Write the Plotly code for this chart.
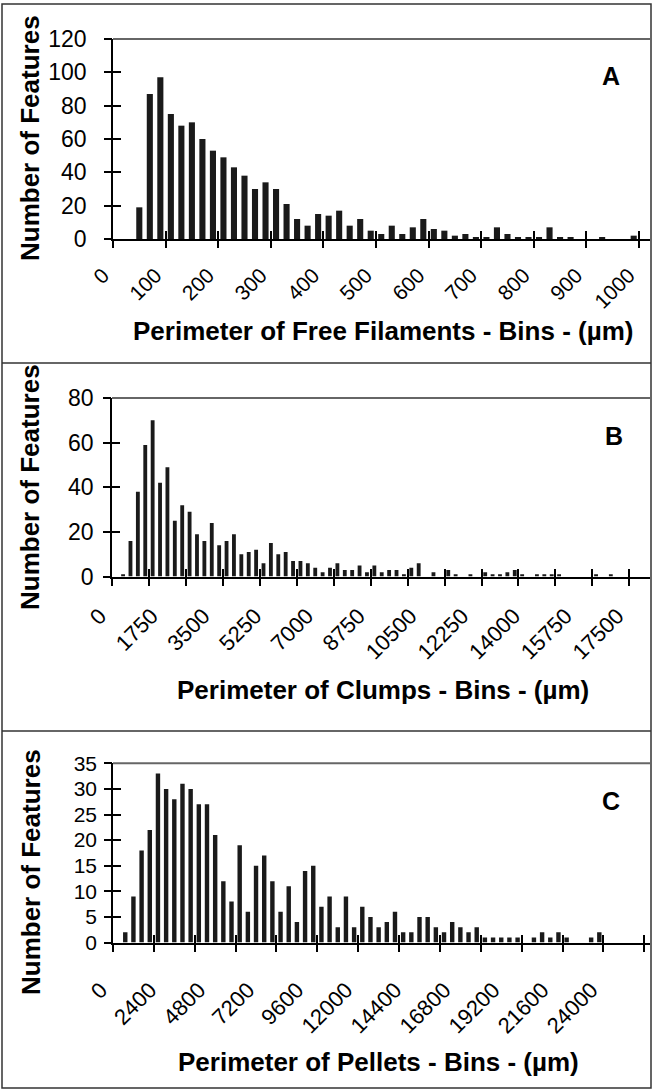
import numpy as np
import plotly.graph_objects as go

W, H = 653, 1090

# ---------------- data ----------------
# Panel A: free filaments, bins of 20 um
a_bin = 20
a_counts = [0, 0, 19, 87, 97, 75, 68, 70, 60, 53, 49, 43, 38, 30, 34, 30, 21, 12, 8, 15,
            14, 17, 8, 12, 5, 3, 8, 3, 7, 12, 6, 5, 2, 3, 1, 1, 7, 3, 1, 1,
            1, 7, 1, 1, 0, 0, 1, 0, 0, 2, 0]
a_tick_vals = [0, 100, 200, 300, 400, 500, 600, 700, 800, 900, 1000]
a_label_vals = [0, 100, 200, 300, 400, 500, 600, 700, 800, 900, 1000]
a_label_text = ["0", "100", "200", "300", "400", "500", "600", "700", "800", "900", "1000"]
a_y_ticks = [0, 20, 40, 60, 80, 100, 120]

# Panel B: clumps, bins of 250 um
b_bin = 250
b_counts = [0, 1, 16, 38, 59, 70, 42, 49, 25, 32, 29, 19, 16, 24, 14, 16, 19, 10, 11, 12,
            6, 15, 10, 11, 7, 7, 6, 4, 2, 4, 6, 3, 3, 5, 2, 5, 2, 3, 3, 1,
            4, 6, 0, 2, 0, 3, 1, 0, 1, 0, 2, 1, 1, 2, 3, 1, 0, 1, 1, 1,
            1, 0, 0, 0, 0, 1, 0, 1]
b_tick_vals = [0, 1250, 2500, 3750, 5000, 6250, 7500, 8750, 10000, 11250, 12500, 13750,
               15000, 16250, 17500]
b_label_vals = [0, 1750, 3500, 5250, 7000, 8750, 10500, 12250, 14000, 15750, 17500]
b_label_text = ["0", "1750", "3500", "5250", "7000", "8750", "10500", "12250", "14000",
                "15750", "17500"]
b_y_ticks = [0, 20, 40, 60, 80]

# Panel C: pellets, bins of 400 um
c_bin = 400
c_counts = [0, 2, 9, 18, 22, 33, 30, 28, 31, 30, 27, 27, 21, 12, 8, 19, 6, 15, 17, 12,
            6, 11, 4, 14, 15, 7, 9, 3, 9, 3, 7, 5, 3, 4, 6, 2, 2, 5, 5, 3,
            2, 4, 3, 2, 3, 1, 1, 1, 1, 1, 0, 1, 2, 1, 2, 1, 0, 0, 1, 2]
c_tick_vals = [0, 2000, 4000, 6000, 8000, 10000, 12000, 14000, 16000, 18000, 20000,
               22000, 24000, 26000]
c_label_vals = [0, 2400, 4800, 7200, 9600, 12000, 14400, 16800, 19200, 21600, 24000]
c_label_text = ["0", "2400", "4800", "7200", "9600", "12000", "14400", "16800", "19200",
                "21600", "24000"]
c_y_ticks = [0, 5, 10, 15, 20, 25, 30, 35]

x_titles = ["Perimeter of Free Filaments - Bins - (µm)",
            "Perimeter of Clumps - Bins - (µm)",
            "Perimeter of Pellets - Bins - (µm)"]
y_title = "Number of Features"
letters = ["A", "B", "C"]

# ---------------- layout geometry (pixels) ----------------
FONT = "Liberation Sans, Arial, Helvetica, sans-serif"
panels = [
    dict(counts=a_counts, bin=a_bin, ticks=a_tick_vals, lv=a_label_vals, lt=a_label_text,
         yt=a_y_ticks, ymax=120, xmax=1021, left=113, right=650, top=39, bottom=239,
         ylab=20, xstand=14, xshift=-10, yfs=23, xfs=21, bw=0.58,
         xt=(383, 331), ytl=(30, 138), let=(611, 76)),
    dict(counts=b_counts, bin=b_bin, ticks=b_tick_vals, lv=b_label_vals, lt=b_label_text,
         yt=b_y_ticks, ymax=80, xmax=18200, left=112, right=650, top=398, bottom=576.6,
         ylab=12, xstand=16, xshift=-12, yfs=23, xfs=22, bw=0.52,
         xt=(383, 690), ytl=(30, 487), let=(614, 436)),
    dict(counts=c_counts, bin=c_bin, ticks=c_tick_vals, lv=c_label_vals, lt=c_label_text,
         yt=c_y_ticks, ymax=35, xmax=26280, left=113, right=650, top=763.3, bottom=942.6,
         ylab=10, xstand=24, xshift=-12, yfs=21, xfs=22, bw=0.54,
         xt=(378, 1062), ytl=(31, 872), let=(611, 801)),
]

fig = go.Figure()
layout = {}
shapes = []
annotations = []


def axname(prefix, n):
    return prefix if n == 1 else f"{prefix}{n}"


for p, P in enumerate(panels):
    xm, ym = p + 1, p + 1             # main axes (labels)
    xo, xi = 4 + 2 * p, 5 + 2 * p     # outside / inside x tick axes
    yo, yi = 10 + 2 * p, 11 + 2 * p   # outside / inside y tick axes
    xid, yid = axname("x", xm), axname("y", ym)

    counts = np.array(P["counts"])
    centers = (np.arange(len(counts)) + 0.5) * P["bin"]
    fig.add_trace(go.Bar(x=centers, y=counts, width=P["bin"] * P["bw"],
                         marker=dict(color="#1a1a1a", line=dict(width=0)),
                         xaxis=xid, yaxis=yid, showlegend=False, hoverinfo="skip"))
    # invisible helpers so overlay tick axes get drawn
    for xa, ya in [(f"x{xo}", yid), (f"x{xi}", yid), (xid, f"y{yo}"), (xid, f"y{yi}")]:
        fig.add_trace(go.Scatter(x=[0], y=[0], mode="markers", marker=dict(opacity=0),
                                 xaxis=xa, yaxis=ya, showlegend=False, hoverinfo="skip"))

    dom_x = [P["left"] / W, P["right"] / W]
    dom_y = [1 - P["bottom"] / H, 1 - P["top"] / H]
    xr = [0, P["xmax"]]
    yr = [0, P["ymax"]]

    layout[axname("xaxis", xm)] = dict(
        domain=dom_x, anchor=yid, range=xr, tickmode="array", tickvals=P["lv"],
        ticktext=P["lt"], ticks="", tickangle=-45, showline=True, linecolor="black",
        linewidth=1.5, showgrid=False, zeroline=False, automargin=False,
        ticklabelstandoff=P["xstand"], ticklabelshift=P["xshift"],
        tickfont=dict(family=FONT, size=P["xfs"], color="black"), fixedrange=True)
    for n, side in [(xo, "outside"), (xi, "inside")]:
        layout[f"xaxis{n}"] = dict(
            overlaying=xid, anchor=yid, range=xr, tickmode="array", tickvals=P["ticks"],
            ticks=side, ticklen=8, tickwidth=1.5, tickcolor="black", automargin=False,
            showticklabels=False, showline=False, showgrid=False, zeroline=False)
    # main y axis: labels pushed away by an invisible tick of length ylab
    layout[axname("yaxis", ym)] = dict(
        domain=dom_y, anchor=xid, range=yr, tickmode="array", tickvals=P["yt"],
        ticks="outside", ticklen=P["ylab"], tickwidth=1, tickcolor="rgba(0,0,0,0)",
        showline=True, linecolor="black", linewidth=1.5, showgrid=False, zeroline=False,
        automargin=False, tickfont=dict(family=FONT, size=P["yfs"], color="black"))
    for n, side in [(yo, "outside"), (yi, "inside")]:
        layout[f"yaxis{n}"] = dict(
            overlaying=yid, anchor=xid, range=yr, tickmode="array", tickvals=P["yt"],
            ticks=side, ticklen=8, tickwidth=1.5, tickcolor="black", automargin=False,
            showticklabels=False, showline=False, showgrid=False, zeroline=False)

    # plot-area top border
    shapes.append(dict(type="line", xref=f"{xid} domain", yref=f"{yid} domain",
                       x0=0, x1=1, y0=1, y1=1, line=dict(color="#666666", width=2)))

    annotations.append(dict(text=f"<b>{x_titles[p]}</b>", x=P["xt"][0] / W,
                            y=1 - P["xt"][1] / H, xref="paper", yref="paper",
                            showarrow=False, xanchor="center", yanchor="middle",
                            font=dict(family=FONT, size=26, color="black")))
    annotations.append(dict(text=f"<b>{y_title}</b>", x=P["ytl"][0] / W,
                            y=1 - P["ytl"][1] / H, xref="paper", yref="paper",
                            showarrow=False, xanchor="center", yanchor="middle",
                            textangle=-90,
                            font=dict(family=FONT, size=26, color="black")))
    annotations.append(dict(text=f"<b>{letters[p]}</b>", x=P["let"][0] / W,
                            y=1 - P["let"][1] / H, xref="paper", yref="paper",
                            showarrow=False, xanchor="center", yanchor="middle",
                            font=dict(family=FONT, size=25, color="black")))

# outer frame and panel separators
border = dict(color="#333333", width=1.5)
shapes.append(dict(type="rect", xref="paper", yref="paper",
                   x0=2 / W, x1=651 / W, y0=1 - 1088 / H, y1=1 - 4 / H, line=border))
for yy in [363, 731]:
    shapes.append(dict(type="line", xref="paper", yref="paper",
                       x0=2 / W, x1=651 / W, y0=1 - yy / H, y1=1 - yy / H, line=border))

fig.update_layout(width=W, height=H, margin=dict(l=0, r=0, t=0, b=0),
                  paper_bgcolor="white", plot_bgcolor="white", showlegend=False,
                  shapes=shapes, annotations=annotations, barmode="overlay",
                  font=dict(family=FONT, color="black"), **layout)

fig.write_html("out.html")
